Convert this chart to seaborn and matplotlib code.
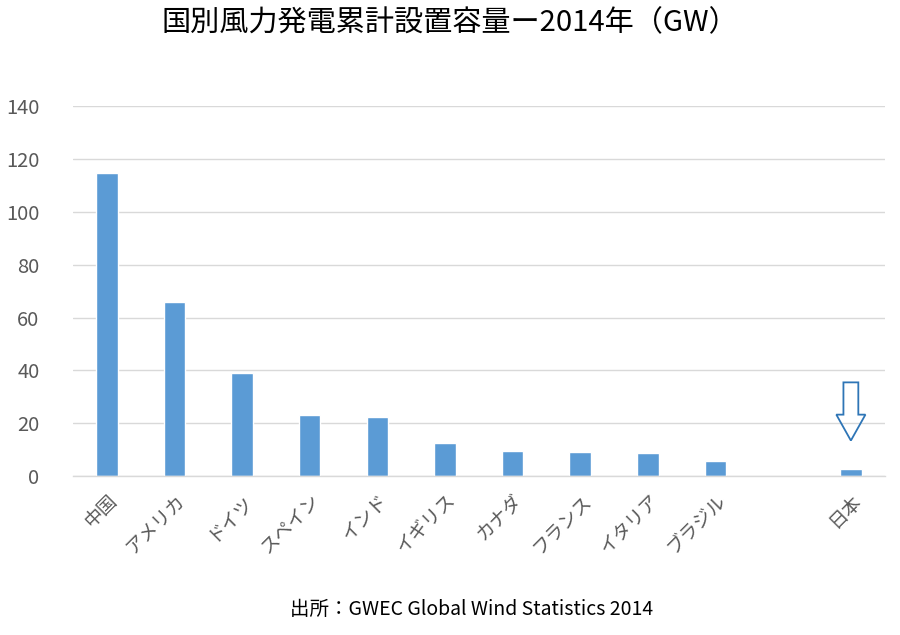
import matplotlib
matplotlib.use("Agg")
import matplotlib.pyplot as plt
import matplotlib.patches as mpatches
import numpy as np
import pandas as pd
import seaborn as sns

# 2014 cumulative installed wind capacity (GW), source: GWEC
countries = ["中国", "アメリカ", "ドイツ", "スペイン", "インド", "イギリス",
             "カナダ", "フランス", "イタリア", "ブラジル", "", "日本"]
capacity_gw = [114.6, 65.9, 39.2, 23.0, 22.5, 12.4, 9.7, 9.3, 8.7, 5.9, np.nan, 2.8]
y_ticks = [0, 20, 40, 60, 80, 100, 120, 140]

title = "国別風力発電累計設置容量ー2014年（GW）"
source = "出所：GWEC Global Wind Statistics 2014"

BAR_COLOR = "#5B9BD5"
TEXT_COLOR = "#595959"

sns.set_theme(style="white")
plt.rcParams["font.family"] = ["Noto Sans CJK JP", "DejaVu Sans"]

df = pd.DataFrame({"country": countries, "gw": capacity_gw})

fig = plt.figure(figsize=(9, 6.35), dpi=100)
ax = fig.add_axes([0.081, 0.250, 0.902, 0.583])

sns.barplot(data=df, x="country", y="gw", order=countries, color=BAR_COLOR,
            saturation=1, width=0.32, ax=ax)

ax.set_ylim(0, 140)
ax.set_yticks(y_ticks)
ax.yaxis.grid(True, color="#D9D9D9", linewidth=1.0)
ax.set_axisbelow(True)
for side in ["top", "right", "left"]:
    ax.spines[side].set_visible(False)
ax.spines["bottom"].set_color("#D9D9D9")
ax.spines["bottom"].set_linewidth(1.0)

ax.set_xlabel("")
ax.set_ylabel("")
ax.tick_params(axis="y", length=0, labelsize=14.5, labelcolor=TEXT_COLOR, pad=24)
ax.tick_params(axis="x", length=0, labelsize=13.5, labelcolor=TEXT_COLOR, pad=10)
for lbl in ax.get_xticklabels():
    lbl.set_rotation(45)
    lbl.set_ha("right")
    lbl.set_rotation_mode("anchor")

# outlined arrow pointing at Japan
jp = countries.index("日本")
arrow = mpatches.FancyArrow(jp, 35.5, 0, -22.0, width=0.22, head_width=0.43,
                            head_length=9.8, length_includes_head=True,
                            fill=False, edgecolor="#2E75B6", linewidth=1.3)
ax.add_patch(arrow)

fig.text(0.5, 0.963, title, ha="center", va="center", fontsize=21,
         fontweight="normal", color="black")
fig.text(0.524, 0.04, source, ha="center", va="center", fontsize=14, color="black")

fig.savefig("out.png", dpi=100)
